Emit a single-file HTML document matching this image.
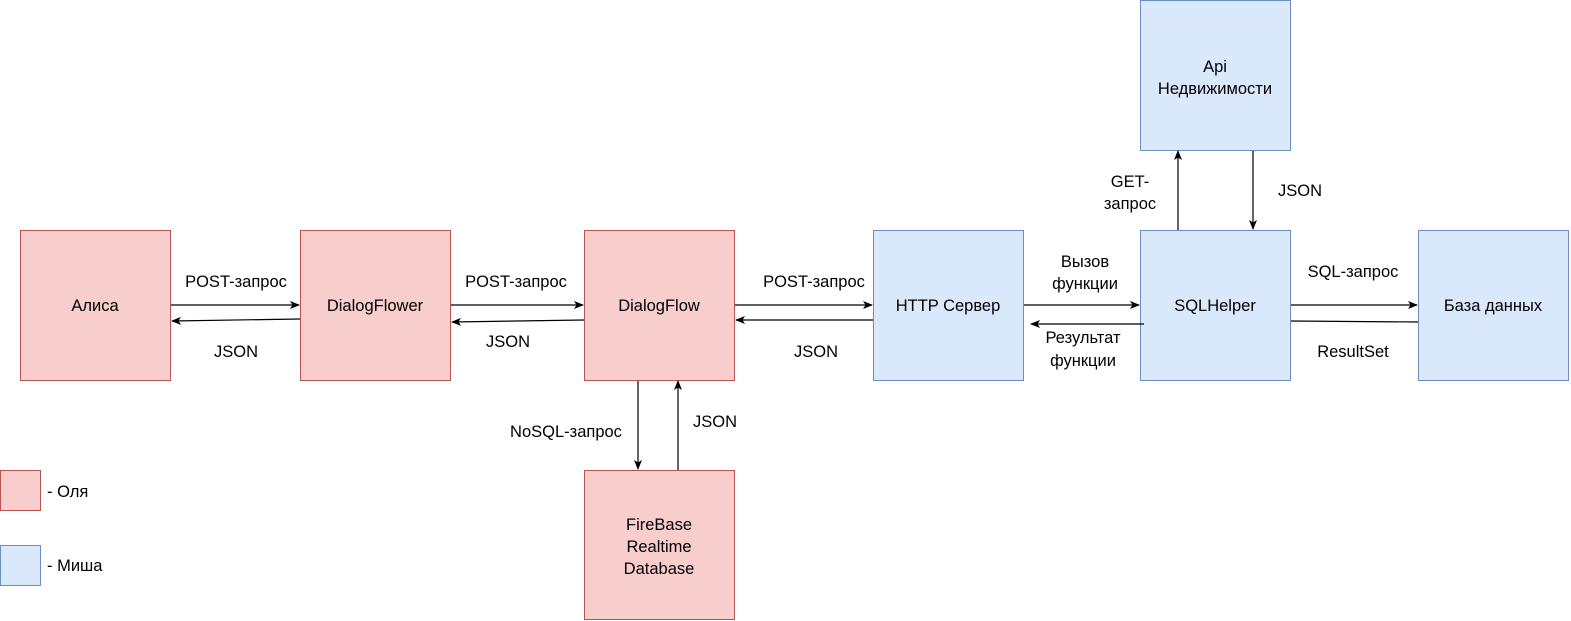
<!DOCTYPE html>
<html><head><meta charset="utf-8"><style>
html,body{margin:0;padding:0;background:#fff;width:1571px;height:621px;overflow:hidden}
text{font-family:"Liberation Sans",sans-serif;font-size:16.5px;fill:#000}
</style></head><body>
<svg width="1571" height="621" viewBox="0 0 1571 621" xmlns="http://www.w3.org/2000/svg">
<defs><marker id="a" markerWidth="10" markerHeight="8" refX="9" refY="4" orient="auto" markerUnits="userSpaceOnUse"><path d="M0,0 L10,4 L0,8 L2.5,4 Z" fill="#000"/></marker></defs>
<g stroke-width="1">
<rect x="20.5" y="230.5" width="150" height="150" fill="#f8cecc" stroke="#b85450"/>
<rect x="300.5" y="230.5" width="150" height="150" fill="#f8cecc" stroke="#b85450"/>
<rect x="584.5" y="230.5" width="150" height="150" fill="#f8cecc" stroke="#b85450"/>
<rect x="584.5" y="470.5" width="150" height="149" fill="#f8cecc" stroke="#b85450"/>
<rect x="873.5" y="230.5" width="150" height="150" fill="#dae8fc" stroke="#6c8ebf"/>
<rect x="1140.5" y="230.5" width="150" height="150" fill="#dae8fc" stroke="#6c8ebf"/>
<rect x="1418.5" y="230.5" width="150" height="150" fill="#dae8fc" stroke="#6c8ebf"/>
<rect x="1140.5" y="0.5" width="150" height="150" fill="#dae8fc" stroke="#6c8ebf"/>
<rect x="0.5" y="470.5" width="40" height="40" fill="#f8cecc" stroke="#b85450"/>
<rect x="0.5" y="545.5" width="40" height="40" fill="#dae8fc" stroke="#6c8ebf"/>
</g>
<g stroke="#000" stroke-width="1.2" fill="none" marker-end="url(#a)">
<line x1="171" y1="305" x2="299" y2="305"/>
<line x1="300" y1="319" x2="172" y2="321"/>
<line x1="451" y1="305" x2="583" y2="305"/>
<line x1="584" y1="320" x2="452" y2="322"/>
<line x1="735" y1="305" x2="872" y2="305"/>
<line x1="873" y1="320" x2="736" y2="320"/>
<line x1="1024" y1="305" x2="1139" y2="305"/>
<line x1="1144" y1="324" x2="1031" y2="324"/>
<line x1="1291" y1="305" x2="1417" y2="305"/>
<line x1="638" y1="381" x2="638" y2="469"/>
<line x1="678" y1="470" x2="678" y2="381"/>
<line x1="1178" y1="230" x2="1178" y2="151"/>
<line x1="1253" y1="151" x2="1253" y2="229"/>
</g>
<line x1="1291" y1="321" x2="1418" y2="322" stroke="#000" stroke-width="1.2"/>
<g text-anchor="middle">
<text x="95" y="311">Алиса</text>
<text x="375" y="311">DialogFlower</text>
<text x="659" y="311">DialogFlow</text>
<text x="948" y="311">HTTP Сервер</text>
<text x="1215" y="311">SQLHelper</text>
<text x="1493" y="311">База данных</text>
<text x="1215" y="72">Api</text>
<text x="1215" y="94">Недвижимости</text>
<text x="659" y="530">FireBase</text>
<text x="659" y="552">Realtime</text>
<text x="659" y="574">Database</text>
<text x="236" y="287">POST-запрос</text>
<text x="236" y="357">JSON</text>
<text x="516" y="287">POST-запрос</text>
<text x="508" y="347">JSON</text>
<text x="814" y="287">POST-запрос</text>
<text x="816" y="357">JSON</text>
<text x="1085" y="267">Вызов</text>
<text x="1085" y="289">функции</text>
<text x="1083" y="343">Результат</text>
<text x="1083" y="366">функции</text>
<text x="1353" y="277">SQL-запрос</text>
<text x="1353" y="357">ResultSet</text>
<text x="1130" y="187">GET-</text>
<text x="1130" y="209">запрос</text>
<text x="1300" y="196">JSON</text>
<text x="566" y="437">NoSQL-запрос</text>
<text x="715" y="427">JSON</text>
</g>
<text x="47" y="497">- Оля</text>
<text x="47" y="571">- Миша</text>
</svg>
</body></html>
